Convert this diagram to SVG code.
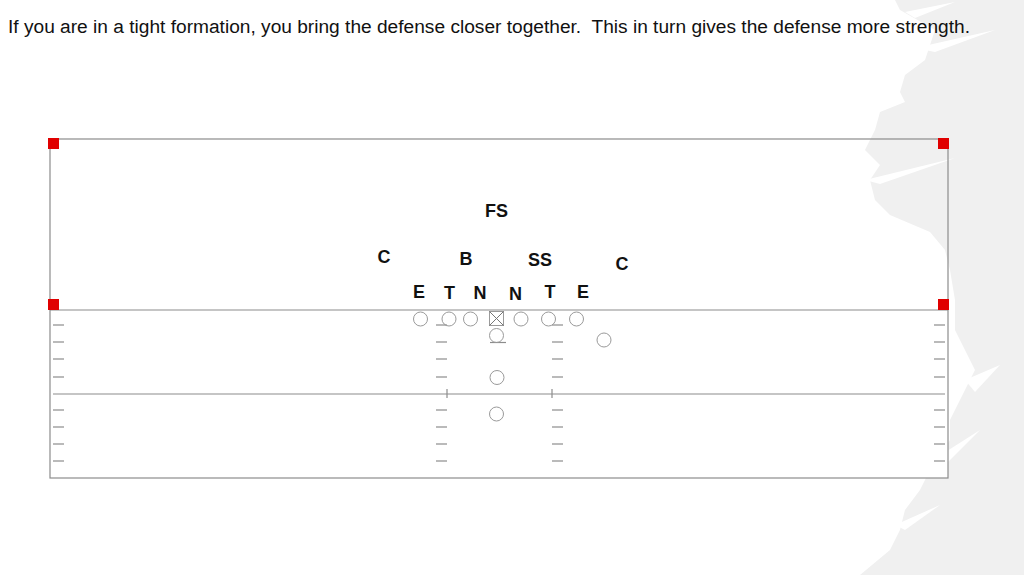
<svg xmlns="http://www.w3.org/2000/svg" width="1024" height="575" viewBox="0 0 1024 575">
<style>
.t{font-family:"Liberation Sans",Arial,sans-serif;font-size:18px;fill:#111;white-space:pre}
.lbl{font-family:"Liberation Sans",Arial,sans-serif;font-size:18px;font-weight:bold;fill:#111;text-anchor:middle;dominant-baseline:central}
.ln{stroke:#8c8c8c;stroke-width:1.2;fill:none}
.h{stroke:#8c8c8c;stroke-width:1.2}
.p{fill:#fff;stroke:#9a9a9a;stroke-width:1}
.r{fill:#e00000}
.ws{fill:#fff}
</style>
<rect width="1024" height="575" fill="#fff"/>
<path d="M895,0 L900,10 L935,30 L925,60 L905,75 L900,92 L905,102 L880,112 L875,130 L865,150 L880,165 L870,180 L875,200 L890,215 L930,232 L945,250 L950,270 L955,300 L955,330 L965,350 L975,370 L960,400 L950,420 L950,440 L930,470 L920,490 L905,510 L900,530 L890,550 L860,575 L1024,575 L1024,0 Z" fill="#f0f0f0"/>
<path class="ws" d="M905,12 L955,2 L915,18 Z"/>
<path class="ws" d="M915,48 L995,30 L935,52 Z"/>
<path class="ws" d="M865,180 L955,158 L880,184 Z"/>
<path class="ws" d="M965,380 L1000,365 L975,392 Z"/>
<path class="ws" d="M925,465 L980,430 L940,470 Z"/>
<path class="ws" d="M895,525 L940,505 L905,530 Z"/>
<g id="field">
<rect x="50" y="310" width="898" height="168" fill="#fff"/>
<rect x="50" y="139" width="898" height="339" class="ln"/>
<line x1="50" y1="310" x2="948" y2="310" class="ln"/>
<line x1="53" y1="394" x2="945" y2="394" class="ln"/>
<line x1="447" y1="389" x2="447" y2="398" class="h"/>
<line x1="552" y1="389" x2="552" y2="398" class="h"/>
<g class="h">
<line x1="53" y1="325" x2="64" y2="325"/><line x1="53" y1="342" x2="64" y2="342"/><line x1="53" y1="359" x2="64" y2="359"/><line x1="53" y1="377" x2="64" y2="377"/>
<line x1="53" y1="410" x2="64" y2="410"/><line x1="53" y1="427" x2="64" y2="427"/><line x1="53" y1="444" x2="64" y2="444"/><line x1="53" y1="461" x2="64" y2="461"/>
<line x1="934" y1="325" x2="945" y2="325"/><line x1="934" y1="342" x2="945" y2="342"/><line x1="934" y1="359" x2="945" y2="359"/><line x1="934" y1="377" x2="945" y2="377"/>
<line x1="934" y1="410" x2="945" y2="410"/><line x1="934" y1="427" x2="945" y2="427"/><line x1="934" y1="444" x2="945" y2="444"/><line x1="934" y1="461" x2="945" y2="461"/>
<line x1="436" y1="325" x2="447" y2="325"/><line x1="436" y1="342" x2="447" y2="342"/><line x1="436" y1="359" x2="447" y2="359"/><line x1="436" y1="377" x2="447" y2="377"/>
<line x1="436" y1="410" x2="447" y2="410"/><line x1="436" y1="427" x2="447" y2="427"/><line x1="436" y1="444" x2="447" y2="444"/><line x1="436" y1="461" x2="447" y2="461"/>
<line x1="552" y1="325" x2="563" y2="325"/><line x1="552" y1="342" x2="563" y2="342"/><line x1="552" y1="359" x2="563" y2="359"/><line x1="552" y1="377" x2="563" y2="377"/>
<line x1="552" y1="410" x2="563" y2="410"/><line x1="552" y1="427" x2="563" y2="427"/><line x1="552" y1="444" x2="563" y2="444"/><line x1="552" y1="461" x2="563" y2="461"/>
<line x1="490" y1="342.5" x2="506" y2="342.5"/>
</g>
<rect class="r" x="48" y="138" width="11" height="11"/>
<rect class="r" x="938" y="138" width="11" height="11"/>
<rect class="r" x="48" y="299" width="11" height="11"/>
<rect class="r" x="938" y="299" width="11" height="11"/>
</g>
<g id="offense">
<circle class="p" cx="420.5" cy="319" r="7" fill-opacity="0"/>
<circle class="p" cx="449" cy="319" r="7" fill-opacity="0"/>
<circle class="p" cx="470.5" cy="319" r="7"/>
<g id="center">
<rect class="p" x="489.5" y="311.5" width="14" height="14" stroke="#777"/>
<line x1="489.5" y1="311.5" x2="503.5" y2="325.5" stroke="#777" stroke-width="1"/>
<line x1="503.5" y1="311.5" x2="489.5" y2="325.5" stroke="#777" stroke-width="1"/>
</g>
<circle class="p" cx="521" cy="319" r="7"/>
<circle class="p" cx="548.5" cy="319" r="7" fill-opacity="0"/>
<circle class="p" cx="576.5" cy="319" r="7"/>
<circle class="p" cx="496.5" cy="335.5" r="7" fill-opacity="0"/>
<circle class="p" cx="604" cy="340" r="7"/>
<circle class="p" cx="497" cy="377.5" r="7"/>
<circle class="p" cx="496.5" cy="414" r="7"/>
</g>
<g id="defense">
<text class="lbl" x="496.5" y="211">FS</text>
<text class="lbl" x="384" y="256.5">C</text>
<text class="lbl" x="466" y="258.5">B</text>
<text class="lbl" x="540" y="259.5">SS</text>
<text class="lbl" x="622" y="264">C</text>
<text class="lbl" x="419" y="291.5">E</text>
<text class="lbl" x="449.5" y="292.5">T</text>
<text class="lbl" x="480" y="293">N</text>
<text class="lbl" x="515.5" y="294">N</text>
<text class="lbl" x="550" y="291.5">T</text>
<text class="lbl" x="583" y="291.5">E</text>
</g>
<g id="connectors"/>
<text class="t" x="8" y="33" textLength="962" lengthAdjust="spacingAndGlyphs">If you are in a tight formation, you bring the defense closer together.  This in turn gives the defense more strength.</text>
</svg>
